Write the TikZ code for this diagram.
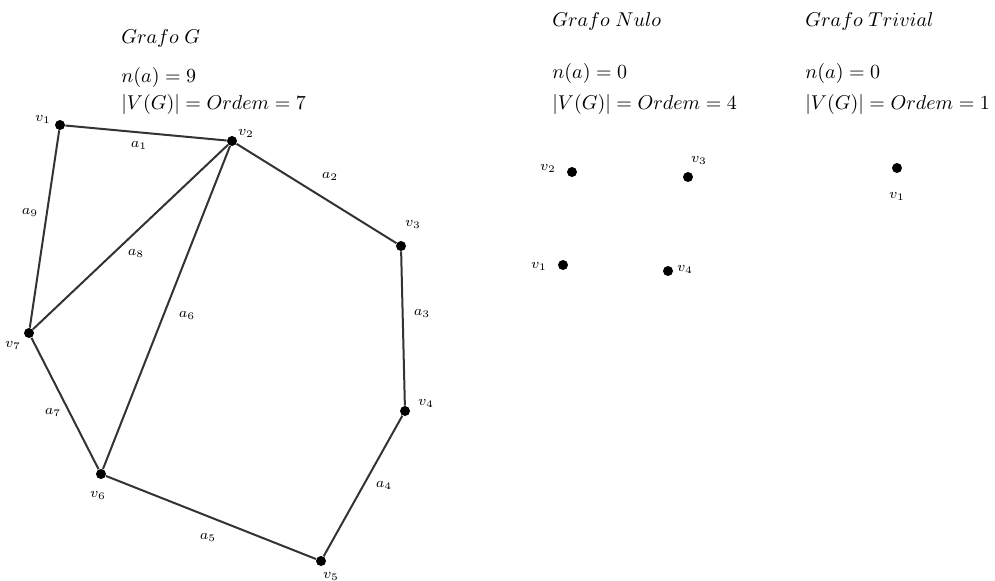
\documentclass[tikz,border=0pt]{standalone}
\begin{document}
\begin{tikzpicture}[x=0.5pt,y=-0.5pt,
  vtx/.style={circle,fill=black,inner sep=0pt,minimum size=5pt},
  lbl/.style={font=\scriptsize,inner sep=1pt},
  txt/.style={anchor=west,inner sep=0pt},
  edge/.style={line width=1pt,draw=black!80}]
\useasboundingbox (0,0) rectangle (995,580);
% Graph G
\node[txt] (tG) at (121,38) {$Grafo\;G$};
\node[txt] (nG) at (121,77) {$n(a)=9$};
\node[txt] (oG) at (121,104) {$|V(G)|=Ordem=7$};
\node[vtx] (g1) at (60,125) {};
\node[vtx] (g2) at (232,141) {};
\node[vtx] (g3) at (401,246) {};
\node[vtx] (g4) at (405,411) {};
\node[vtx] (g5) at (321,561) {};
\node[vtx] (g6) at (101,474) {};
\node[vtx] (g7) at (29,333) {};
\node[lbl] (lg1) at (43,119) {$v_1$};
\node[lbl] (lg2) at (246,133) {$v_2$};
\node[lbl] (lg3) at (413,224) {$v_3$};
\node[lbl] (lg4) at (426,403) {$v_4$};
\node[lbl] (lg5) at (331,576) {$v_5$};
\node[lbl] (lg6) at (98,495) {$v_6$};
\node[lbl] (lg7) at (13,345) {$v_7$};
\draw[edge] (g1) -- (g2);
\draw[edge] (g2) -- (g3);
\draw[edge] (g3) -- (g4);
\draw[edge] (g4) -- (g5);
\draw[edge] (g5) -- (g6);
\draw[edge] (g6) -- (g7);
\draw[edge] (g7) -- (g1);
\draw[edge] (g7) -- (g2);
\draw[edge] (g6) -- (g2);
\node[lbl] (a1) at (139,145) {$a_1$};
\node[lbl] (a2) at (330,176) {$a_2$};
\node[lbl] (a3) at (422,313) {$a_3$};
\node[lbl] (a4) at (384,485) {$a_4$};
\node[lbl] (a5) at (208,537) {$a_5$};
\node[lbl] (a6) at (187,315) {$a_6$};
\node[lbl] (a7) at (53,412) {$a_7$};
\node[lbl] (a8) at (136,253) {$a_8$};
\node[lbl] (a9) at (30,212) {$a_9$};
% Null graph
\node[txt] (tN) at (552,21) {$Grafo\;Nulo$};
\node[txt] (nN) at (552,73) {$n(a)=0$};
\node[txt] (oN) at (552,104) {$|V(G)|=Ordem=4$};
\node[vtx] (n2) at (572,172) {};
\node[vtx] (n3) at (688,177) {};
\node[vtx] (n1) at (563,265) {};
\node[vtx] (n4) at (668,271) {};
\node[lbl] (ln2) at (548,168) {$v_2$};
\node[lbl] (ln3) at (699,160) {$v_3$};
\node[lbl] (ln1) at (539,266) {$v_1$};
\node[lbl] (ln4) at (685,269) {$v_4$};
% Trivial graph
\node[txt] (tT) at (805,21) {$Grafo\;Trivial$};
\node[txt] (nT) at (805,73) {$n(a)=0$};
\node[txt] (oT) at (805,104) {$|V(G)|=Ordem=1$};
\node[vtx] (t1) at (897,168) {};
\node[lbl] (lt1) at (897,196) {$v_1$};
\end{tikzpicture}
\end{document}
